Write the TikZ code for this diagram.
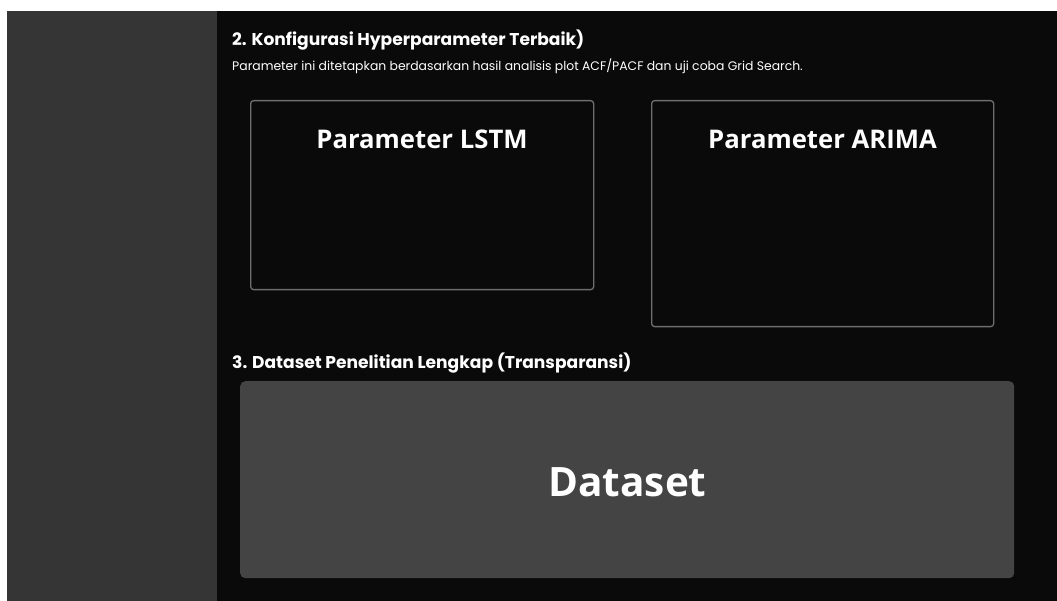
\documentclass[tikz,border=0pt]{standalone}
\usepackage{fontspec}
\setmainfont{Poppins}
\newfontfamily\headfont{Open Sans}
\definecolor{pagebg}{HTML}{0A0A0A}
\definecolor{sidebar}{HTML}{353535}
\definecolor{cardline}{HTML}{6E6E6E}
\definecolor{datafill}{HTML}{444444}
\tikzset{
  card/.style={draw=cardline, line width=1.3pt, rounded corners=3pt, fill=pagebg, anchor=north west, inner sep=0pt},
  cardtitle/.style={text=white, font=\headfont\bfseries\fontsize{25.7}{30}\selectfont, anchor=base},
  section/.style={text=white, font=\bfseries\fontsize{17.1}{21}\selectfont, anchor=base west, inner sep=0pt},
  note/.style={text=white, font=\fontsize{12.4}{15}\selectfont, anchor=base west, inner sep=0pt},
}
\begin{document}
\begin{tikzpicture}[x=1pt, y=-1pt]
  % page frame
  \fill[white] (0,0) rectangle (1057,601);
  \useasboundingbox (0,0) rectangle (1057,601);
  \fill[sidebar] (7,11) rectangle (217,601);
  \fill[pagebg] (217,11) rectangle (1057,601);

  % section 2
  \node[section] (sec2) at (232,46) {2. Konfigurasi Hyperparameter Terbaik)};
  \node[note] (sub2) at (232,71) {Parameter ini ditetapkan berdasarkan hasil analisis plot ACF/PACF dan uji coba Grid Search.};

  \node[card, minimum width=343pt, minimum height=189pt] (lstm) at (250,100) {};
  \node[cardtitle] (lstmt) at (422,148.5) {Parameter LSTM};

  \node[card, minimum width=342pt, minimum height=226pt] (arima) at (651,100) {};
  \node[cardtitle] (arimat) at (822.5,148.5) {Parameter ARIMA};

  % section 3
  \node[section] (sec3) at (232,368) {3. Dataset Penelitian Lengkap (Transparansi)};

  \node[fill=datafill, rounded corners=5pt, anchor=north west, inner sep=0pt,
        minimum width=774pt, minimum height=197pt] (data) at (240,381) {};
  \node[text=white, font=\headfont\bfseries\fontsize{40.5}{48}\selectfont, anchor=base] (datat) at (627.5,496) {Dataset};
\end{tikzpicture}
\end{document}
